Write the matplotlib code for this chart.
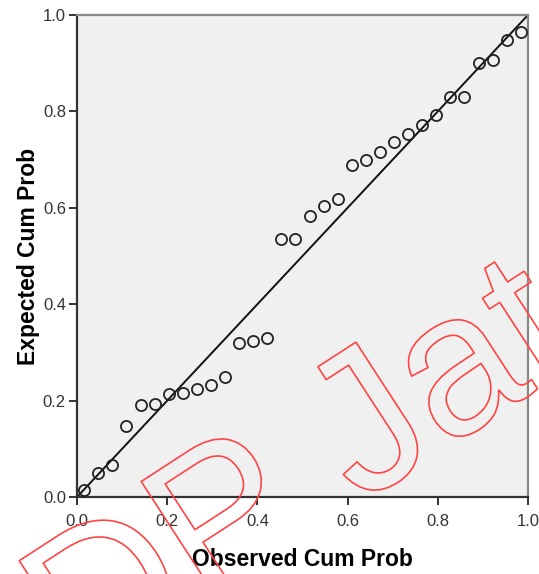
import numpy as np
import matplotlib.pyplot as plt
import matplotlib.patheffects as pe

plt.rcParams['font.family'] = ['Liberation Sans', 'DejaVu Sans']

# observed vs expected cumulative probability (P-P plot, 32 cases)
observed = [0.016, 0.047, 0.078, 0.109, 0.141, 0.172, 0.203, 0.234,
            0.266, 0.297, 0.328, 0.359, 0.391, 0.422, 0.453, 0.484,
            0.516, 0.547, 0.578, 0.609, 0.641, 0.672, 0.703, 0.734,
            0.766, 0.797, 0.828, 0.859, 0.891, 0.922, 0.953, 0.984]
expected = [0.015, 0.050, 0.066, 0.147, 0.190, 0.193, 0.214, 0.216,
            0.224, 0.232, 0.249, 0.320, 0.324, 0.330, 0.535, 0.535,
            0.582, 0.604, 0.619, 0.688, 0.700, 0.716, 0.737, 0.753,
            0.772, 0.793, 0.830, 0.830, 0.900, 0.906, 0.948, 0.965]
ticks = [0.0, 0.2, 0.4, 0.6, 0.8, 1.0]

fig = plt.figure(figsize=(5.39, 5.74), dpi=100)
ax = fig.add_axes([0.1429, 0.1341, 0.8367, 0.8398])
ax.set_facecolor('#f0f0f0')

ax.plot([0, 1], [0, 1], color='#111111', lw=1.4, zorder=2)
ax.plot(observed, expected, 'o', ms=8, mfc='none', mec='#222222', mew=1.3,
        zorder=3, clip_on=False)

ax.set_xlim(0, 1)
ax.set_ylim(0, 1)
ax.set_xticks(ticks)
ax.set_yticks(ticks)
ax.set_xticklabels(['%.1f' % t for t in ticks])
ax.set_yticklabels(['%.1f' % t for t in ticks])
ax.tick_params(length=6, width=1.4, color='#333333', labelsize=12,
               labelcolor='#333333')
ax.tick_params(axis='x', pad=6)
ax.tick_params(axis='y', pad=2)

for s in ['left', 'bottom']:
    ax.spines[s].set_color('#333333')
    ax.spines[s].set_linewidth(1.6)
for s in ['top', 'right']:
    ax.spines[s].set_color('#888888')
    ax.spines[s].set_linewidth(1.6)

ax.set_xlabel('Observed Cum Prob', fontsize=16.5, fontweight='bold', labelpad=14)
ax.set_ylabel('Expected Cum Prob', fontsize=16.5, fontweight='bold', labelpad=2)

# watermark
fig.text(0.150, -0.195, 'DP Jat', fontsize=145, rotation=33,
         rotation_mode='anchor', ha='left', va='baseline', color='none',
         path_effects=[pe.withStroke(linewidth=1.2, foreground='#ff4444')],
         zorder=10)

fig.savefig('out.png', dpi=100)
